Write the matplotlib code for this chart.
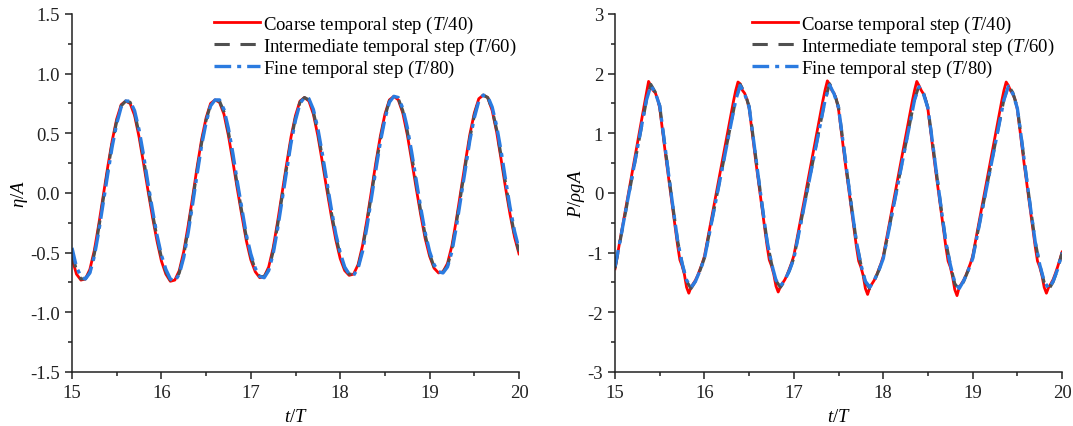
import numpy as np
import matplotlib
matplotlib.use("Agg")
import matplotlib.pyplot as plt
from matplotlib.ticker import MultipleLocator, FormatStrFormatter

plt.rcParams['font.family'] = ['Liberation Serif', 'DejaVu Serif']
plt.rcParams['mathtext.fontset'] = 'custom'
plt.rcParams['mathtext.rm'] = 'Liberation Serif'
plt.rcParams['mathtext.it'] = 'Liberation Serif:italic'
plt.rcParams['axes.unicode_minus'] = False

# time axis (t/T)
t_fine = np.round(np.arange(15.0, 20.0001, 0.05), 3)
t_red_p = np.round(np.arange(15.0, 20.0001, 0.025), 3)

# left panel: free surface elevation eta/A
eta_coarse = [
    -0.55, -0.68, -0.73, -0.72, -0.64, -0.48, -0.26, -0.02, 0.22, 0.44, 0.62, 0.74, 0.77, 0.75, 0.65, 0.47, 0.25, 0.02, -0.20, -0.40,
    -0.57, -0.68, -0.74, -0.73, -0.65, -0.49, -0.27, -0.03, 0.22, 0.45, 0.63, 0.75, 0.78, 0.76, 0.66, 0.48, 0.26, 0.03, -0.19, -0.40,
    -0.56, -0.66, -0.71, -0.70, -0.62, -0.46, -0.24, 0.00, 0.24, 0.47, 0.65, 0.77, 0.80, 0.77, 0.66, 0.48, 0.26, 0.03, -0.19, -0.39,
    -0.55, -0.65, -0.69, -0.68, -0.60, -0.44, -0.22, 0.02, 0.26, 0.48, 0.66, 0.78, 0.81, 0.78, 0.67, 0.49, 0.27, 0.04, -0.18, -0.38,
    -0.53, -0.63, -0.67, -0.66, -0.59, -0.44, -0.22, 0.02, 0.26, 0.49, 0.67, 0.79, 0.82, 0.80, 0.69, 0.51, 0.28, 0.04, -0.18, -0.37,
    -0.51]
eta_mid = [
    -0.50, -0.65, -0.72, -0.72, -0.66, -0.51, -0.29, -0.05, 0.19, 0.42, 0.60, 0.73, 0.77, 0.76, 0.67, 0.50, 0.29, 0.05, -0.17, -0.37,
    -0.54, -0.66, -0.73, -0.74, -0.67, -0.52, -0.30, -0.06, 0.19, 0.42, 0.61, 0.74, 0.78, 0.77, 0.68, 0.51, 0.30, 0.06, -0.16, -0.37,
    -0.53, -0.64, -0.70, -0.70, -0.64, -0.49, -0.27, -0.03, 0.21, 0.44, 0.63, 0.76, 0.80, 0.78, 0.68, 0.51, 0.30, 0.07, -0.16, -0.36,
    -0.52, -0.63, -0.68, -0.68, -0.62, -0.47, -0.25, -0.01, 0.23, 0.45, 0.64, 0.77, 0.81, 0.79, 0.69, 0.52, 0.31, 0.08, -0.15, -0.35,
    -0.51, -0.62, -0.66, -0.66, -0.61, -0.47, -0.25, -0.01, 0.23, 0.46, 0.65, 0.78, 0.82, 0.80, 0.70, 0.53, 0.31, 0.08, -0.15, -0.35,
    -0.49]
eta_fine = [
    -0.46, -0.62, -0.70, -0.72, -0.67, -0.53, -0.32, -0.08, 0.16, 0.39, 0.58, 0.72, 0.77, 0.77, 0.69, 0.53, 0.32, 0.08, -0.14, -0.35,
    -0.52, -0.64, -0.72, -0.74, -0.68, -0.54, -0.33, -0.09, 0.16, 0.40, 0.59, 0.73, 0.78, 0.78, 0.70, 0.54, 0.33, 0.09, -0.13, -0.35,
    -0.51, -0.63, -0.70, -0.71, -0.65, -0.51, -0.30, -0.06, 0.18, 0.42, 0.61, 0.75, 0.80, 0.79, 0.70, 0.54, 0.33, 0.10, -0.13, -0.34,
    -0.50, -0.62, -0.68, -0.69, -0.63, -0.49, -0.28, -0.04, 0.20, 0.43, 0.62, 0.76, 0.81, 0.80, 0.71, 0.55, 0.34, 0.11, -0.12, -0.33,
    -0.49, -0.60, -0.66, -0.67, -0.62, -0.49, -0.28, -0.04, 0.20, 0.44, 0.63, 0.77, 0.82, 0.81, 0.72, 0.56, 0.35, 0.11, -0.12, -0.32,
    -0.47]

# right panel: pressure P/(rho g A)
p_coarse = [
    -1.27, -1.05, -0.84, -0.63, -0.42, -0.21, 0.00, 0.21, 0.42, 0.63, 0.84, 1.05, 1.26, 1.46, 1.66, 1.87, 1.80, 1.72, 1.68, 1.58,
    1.42, 1.12, 0.82, 0.52, 0.24, -0.04, -0.32, -0.60, -0.88, -1.12, -1.22, -1.36, -1.58, -1.68, -1.58, -1.52, -1.46, -1.38, -1.28, -1.18,
    -1.06, -0.86, -0.66, -0.46, -0.26, -0.06, 0.14, 0.34, 0.54, 0.74, 0.94, 1.14, 1.34, 1.54, 1.72, 1.86, 1.83, 1.72, 1.67, 1.57,
    1.42, 1.12, 0.82, 0.52, 0.24, -0.04, -0.32, -0.60, -0.88, -1.12, -1.22, -1.36, -1.56, -1.66, -1.57, -1.51, -1.45, -1.37, -1.27, -1.17,
    -1.05, -0.85, -0.65, -0.45, -0.25, -0.05, 0.15, 0.35, 0.55, 0.75, 0.95, 1.15, 1.35, 1.55, 1.73, 1.88, 1.82, 1.72, 1.67, 1.57,
    1.40, 1.10, 0.80, 0.50, 0.22, -0.06, -0.34, -0.62, -0.90, -1.14, -1.24, -1.38, -1.60, -1.70, -1.58, -1.52, -1.46, -1.38, -1.28, -1.18,
    -1.06, -0.86, -0.66, -0.46, -0.26, -0.06, 0.14, 0.34, 0.54, 0.74, 0.94, 1.14, 1.34, 1.54, 1.72, 1.87, 1.80, 1.72, 1.66, 1.56,
    1.40, 1.10, 0.80, 0.50, 0.22, -0.06, -0.34, -0.62, -0.90, -1.14, -1.24, -1.40, -1.62, -1.72, -1.58, -1.52, -1.46, -1.38, -1.28, -1.18,
    -1.06, -0.86, -0.66, -0.46, -0.26, -0.06, 0.14, 0.34, 0.54, 0.74, 0.94, 1.14, 1.34, 1.54, 1.72, 1.86, 1.80, 1.71, 1.66, 1.56,
    1.40, 1.10, 0.80, 0.50, 0.22, -0.06, -0.34, -0.62, -0.90, -1.14, -1.24, -1.38, -1.58, -1.68, -1.58, -1.52, -1.45, -1.35, -1.24, -1.12,
    -0.99]
p_mid = [
    -1.26, -0.86, -0.46, -0.06, 0.34, 0.74, 1.14, 1.54, 1.82, 1.69, 1.46, 0.88, 0.30, -0.26, -0.80, -1.18, -1.48, -1.60, -1.48, -1.30,
    -1.09, -0.71, -0.33, 0.05, 0.43, 0.81, 1.19, 1.57, 1.82, 1.68, 1.45, 0.88, 0.30, -0.26, -0.80, -1.18, -1.47, -1.58, -1.47, -1.30,
    -1.09, -0.71, -0.33, 0.05, 0.43, 0.81, 1.19, 1.57, 1.83, 1.68, 1.44, 0.86, 0.28, -0.28, -0.82, -1.20, -1.50, -1.60, -1.47, -1.30,
    -1.09, -0.71, -0.33, 0.05, 0.43, 0.81, 1.19, 1.57, 1.80, 1.68, 1.43, 0.86, 0.28, -0.28, -0.82, -1.20, -1.52, -1.62, -1.48, -1.30,
    -1.09, -0.71, -0.33, 0.05, 0.43, 0.81, 1.19, 1.57, 1.80, 1.68, 1.43, 0.86, 0.28, -0.28, -0.82, -1.20, -1.50, -1.62, -1.49, -1.28,
    -1.00]
p_fine = [
    -1.23, -0.85, -0.45, -0.05, 0.35, 0.75, 1.15, 1.55, 1.80, 1.68, 1.46, 0.88, 0.30, -0.26, -0.80, -1.18, -1.46, -1.58, -1.48, -1.30,
    -1.10, -0.72, -0.34, 0.04, 0.42, 0.80, 1.18, 1.56, 1.80, 1.66, 1.44, 0.88, 0.30, -0.26, -0.80, -1.18, -1.46, -1.56, -1.46, -1.30,
    -1.10, -0.72, -0.34, 0.04, 0.42, 0.80, 1.18, 1.56, 1.81, 1.66, 1.43, 0.86, 0.28, -0.28, -0.82, -1.20, -1.48, -1.58, -1.46, -1.30,
    -1.10, -0.72, -0.34, 0.04, 0.42, 0.80, 1.18, 1.56, 1.78, 1.66, 1.42, 0.86, 0.28, -0.28, -0.82, -1.20, -1.50, -1.60, -1.47, -1.30,
    -1.10, -0.72, -0.34, 0.04, 0.42, 0.80, 1.18, 1.56, 1.79, 1.66, 1.42, 0.86, 0.28, -0.28, -0.82, -1.20, -1.48, -1.60, -1.48, -1.28,
    -1.00]

labels = [r'Coarse temporal step ($T$/40)',
          r'Intermediate temporal step ($T$/60)',
          r'Fine temporal step ($T$/80)']

red = '#ff0000'
grey = '#505050'
blue = '#2b7be0'
fs = 13.5

fig = plt.figure(figsize=(10.73, 4.27), dpi=100)
ax1 = fig.add_axes([0.0671, 0.1265, 0.4166, 0.8384])
ax2 = fig.add_axes([0.5732, 0.1265, 0.4166, 0.8384])


def draw(ax, t_c, yc, t_m, ym, t_f, yf, xanchor):
    ax.plot(t_c, yc, color=red, lw=2.0, label=labels[0])
    ax.plot(t_m, ym, color=grey, lw=2.2, dashes=(5, 3.5), label=labels[1])
    ax.plot(t_f, yf, color=blue, lw=2.4, dashes=(5, 1.8, 1.2, 1.8), label=labels[2])
    ax.set_xlim(15, 20)
    ax.xaxis.set_major_locator(MultipleLocator(1))
    ax.xaxis.set_minor_locator(MultipleLocator(0.5))
    for s in ['top', 'right']:
        ax.spines[s].set_visible(False)
    for s in ['left', 'bottom']:
        ax.spines[s].set_linewidth(1.1)
        ax.spines[s].set_color('#222222')
    ax.tick_params(which='major', direction='out', length=5, width=1.1, labelsize=fs, colors='#222222')
    ax.tick_params(which='minor', direction='out', length=3, width=1.1, colors='#222222')
    ax.set_xlabel(r'$t$/$T$', fontsize=fs, labelpad=5.5)
    leg = ax.legend(loc='upper right', frameon=False, fontsize=fs, handlelength=2.45,
                    handletextpad=0.15, labelspacing=0.05, borderaxespad=0.0,
                    bbox_to_anchor=(xanchor, 1.022))
    return leg


draw(ax1, t_fine, eta_coarse, t_fine, eta_mid, t_fine, eta_fine, 1.012)
ax1.set_ylim(-1.5, 1.5)
ax1.yaxis.set_major_locator(MultipleLocator(0.5))
ax1.yaxis.set_minor_locator(MultipleLocator(0.25))
ax1.yaxis.set_major_formatter(FormatStrFormatter('%.1f'))
ax1.set_ylabel(r'$\eta$/$A$', fontsize=fs, labelpad=0)

draw(ax2, t_red_p, p_coarse, t_fine, p_mid, t_fine, p_fine, 1.0)
ax2.set_ylim(-3, 3)
ax2.yaxis.set_major_locator(MultipleLocator(1))
ax2.yaxis.set_minor_locator(MultipleLocator(0.5))
ax2.set_ylabel(r'$P$/$\rho gA$', fontsize=fs, labelpad=0.5)

fig.savefig('out.png', dpi=100)
